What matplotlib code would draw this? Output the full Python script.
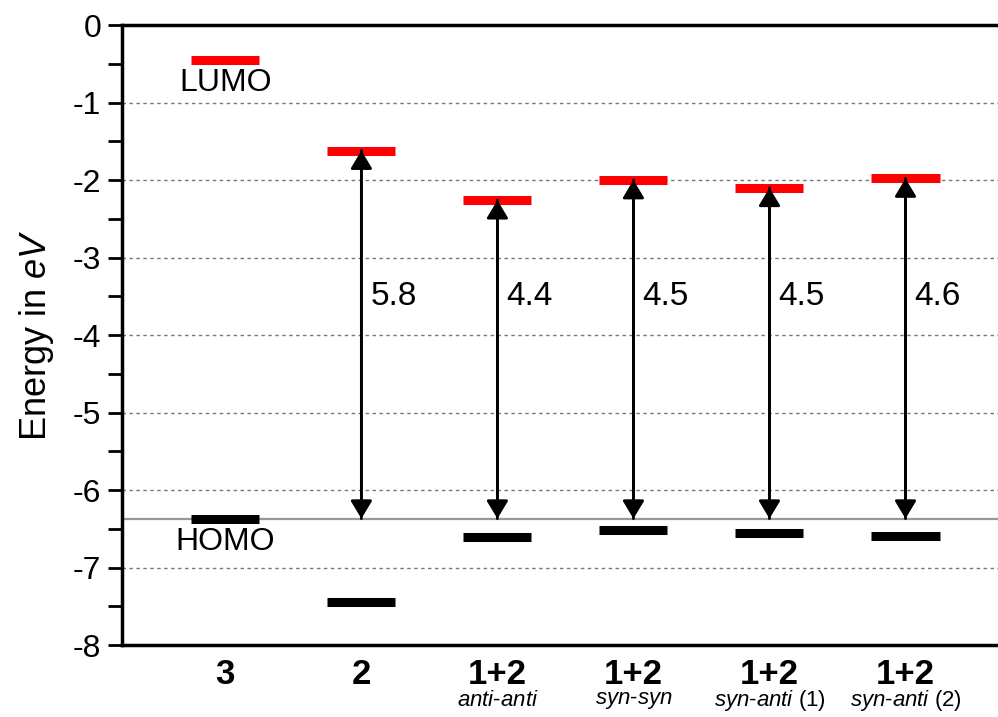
import matplotlib
matplotlib.use("Agg")
import matplotlib.pyplot as plt
from matplotlib.transforms import blended_transform_factory

plt.rcParams['font.family'] = ['Liberation Sans', 'DejaVu Sans']
plt.rcParams['mathtext.fontset'] = 'custom'
plt.rcParams['mathtext.rm'] = 'Liberation Sans'
plt.rcParams['mathtext.it'] = 'Liberation Sans:italic'

# data (eV)
systems = ["3", "2", "1+2", "1+2", "1+2", "1+2"]
conformers = ["", "", r"$\mathit{anti}$-$\mathit{anti}$", r"$\mathit{syn}$-$\mathit{syn}$",
              r"$\mathit{syn}$-$\mathit{anti}$ (1)", r"$\mathit{syn}$-$\mathit{anti}$ (2)"]
lumo = [-0.45, -1.62, -2.26, -2.00, -2.10, -1.98]
homo = [-6.37, -7.45, -6.61, -6.52, -6.55, -6.59]
gaps = ["", "5.8", "4.4", "4.5", "4.5", "4.6"]

x = list(range(1, len(systems) + 1))
half = 0.25

fig = plt.figure(figsize=(9.98, 7.17), dpi=100)
ax = fig.add_axes([0.1222, 0.1004, 0.8778, 0.8647])

ax.set_ylim(-8, 0)
ax.set_xlim(0.24, 6.68)

# reference line at HOMO of 3
ax.axhline(homo[0], color='#999999', lw=1.6, zorder=1)

head = '-|>,head_length=0.55,head_width=0.33'
for i, xi in enumerate(x):
    ax.hlines(lumo[i], xi - half, xi + half, color='#ff0000', lw=6.5, capstyle='butt', zorder=3)
    ax.hlines(homo[i], xi - half, xi + half, color='black', lw=6.5, capstyle='butt', zorder=3)
    if gaps[i]:
        ax.annotate('', xy=(xi, lumo[i]), xytext=(xi, homo[0]),
                    arrowprops=dict(arrowstyle=head, color='black', lw=2,
                                    mutation_scale=20, shrinkA=0, shrinkB=0), zorder=4)
        ax.annotate('', xy=(xi, homo[0]), xytext=(xi, lumo[i]),
                    arrowprops=dict(arrowstyle=head, color='black', lw=2,
                                    mutation_scale=20, shrinkA=0, shrinkB=0), zorder=4)
        ax.text(xi + 0.065, -3.5, gaps[i], fontsize=24, ha='left', va='center')

ax.text(x[0], lumo[0] - 0.3, "LUMO", fontsize=23, ha='center', va='center')
ax.text(x[0], homo[0] - 0.3, "HOMO", fontsize=23, ha='center', va='center')

# axes styling
ax.set_yticks(range(-8, 1))
ax.set_yticks([v + 0.5 for v in range(-8, 0)], minor=True)
ax.tick_params(axis='y', which='both', direction='out', length=10, width=2, labelsize=23, pad=5)
ax.set_yticklabels([str(v) for v in range(-8, 1)])
ax.set_ylabel(r"Energy in $\mathit{eV}$", fontsize=26, labelpad=12)

for v in range(-7, 0):
    ax.axhline(v, color='#777777', lw=1, ls=(0, (2.5, 2.5)), zorder=0)

ax.set_xticks(x)
ax.set_xticklabels(systems, fontsize=25, fontweight='bold')
ax.tick_params(axis='x', length=0, pad=9)

trans = blended_transform_factory(ax.transData, ax.transAxes)
for xi, c in zip(x, conformers):
    if c:
        ax.text(xi, -0.09, c, transform=trans, fontsize=16, ha='center', va='center')

for s in ['left', 'bottom', 'top']:
    ax.spines[s].set_linewidth(2.5)
ax.spines['right'].set_visible(False)

fig.savefig("out.png", dpi=100)
